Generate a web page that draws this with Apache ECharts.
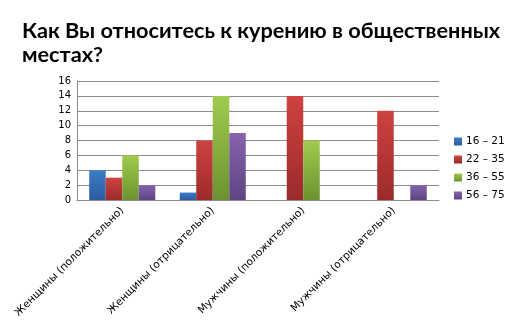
<!DOCTYPE html>
<html>
<head>
<meta charset="utf-8">
<script src="https://cdn.jsdelivr.net/npm/echarts@6/dist/echarts.min.js"></script>
<style>
  html, body { margin: 0; padding: 0; background: #fff; }
  #chart { width: 524px; height: 332px; }
</style>
</head>
<body>
<div id="chart"></div>
<script>
// Survey: attitude towards smoking in public places, by gender and age group
const categories = [
  'Женщины (положительно)',
  'Женщины (отрицательно)',
  'Мужчины (положительно)',
  'Мужчины (отрицательно)'
];
const ageGroups = ['16 – 21', '22 – 35', '36 – 55', '56 – 75'];
const age16to21 = [4, 1, 0, 0];
const age22to35 = [3, 8, 14, 12];
const age36to55 = [6, 14, 8, 0];
const age56to75 = [2, 9, 0, 2];
const yTicks = { min: 0, max: 16, interval: 2 };

const seriesValues = [age16to21, age22to35, age36to55, age56to75];
const palette = [
  ['#3d7cc9', '#2b5c9c'],
  ['#cf4240', '#9a2b2a'],
  ['#a0cb4e', '#6c9230'],
  ['#8763ad', '#5e4581']
];

function grad(c) {
  return new echarts.graphic.LinearGradient(0, 0, 0, 1, [
    { offset: 0, color: c[0] },
    { offset: 1, color: c[1] }
  ]);
}

const chart = echarts.init(document.getElementById('chart'), null, { renderer: 'canvas' });
chart.setOption({
  animation: false,
  backgroundColor: '#ffffff',
  title: {
    text: 'Как Вы относитесь к курению в общественных\nместах?',
    left: 17,
    top: 14,
    textStyle: {
      fontFamily: 'Lato',
      fontWeight: 'bold',
      fontSize: 21.7,
      lineHeight: 24,
      color: '#000000'
    }
  },
  legend: {
    orient: 'vertical',
    left: 449,
    top: 131,
    itemWidth: 8,
    itemHeight: 8,
    itemGap: 7,
    icon: 'rect',
    textStyle: { fontFamily: 'DejaVu Sans', fontSize: 10.5, color: '#000', padding: [0, 0, 0, -1] },
    data: ageGroups
  },
  grid: { left: 77, right: 85, top: 81, bottom: 132, containLabel: false },
  xAxis: {
    type: 'category',
    data: categories,
    axisLine: { show: true, lineStyle: { color: '#8c8c8c', width: 1 } },
    axisTick: { show: false },
    axisLabel: {
      rotate: 45,
      interval: 0,
      margin: 9,
      fontFamily: 'DejaVu Sans',
      fontSize: 10.5,
      color: '#000'
    }
  },
  yAxis: {
    type: 'value',
    min: yTicks.min,
    max: yTicks.max,
    interval: yTicks.interval,
    axisLine: { show: true, lineStyle: { color: '#8c8c8c', width: 1 } },
    axisTick: { show: false },
    splitLine: { show: true, lineStyle: { color: '#8c8c8c', width: 1 } },
    axisLabel: { fontFamily: 'DejaVu Sans', fontSize: 10, color: '#000', margin: 6 }
  },
  series: ageGroups.map((name, i) => ({
    name: name,
    type: 'bar',
    data: seriesValues[i],
    barGap: '0%',
    barCategoryGap: '27%',
    itemStyle: { color: grad(palette[i]) }
  }))
});
</script>
</body>
</html>
